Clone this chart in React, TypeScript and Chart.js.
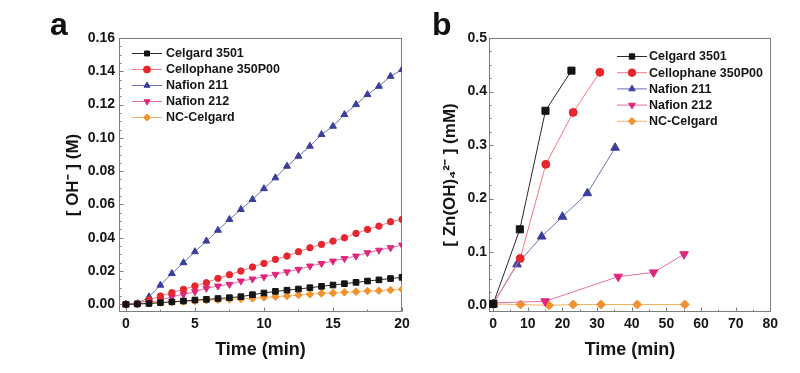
import React, { useEffect, useRef } from "react";
import { Chart, registerables } from "chart.js";
import { drawPoint } from "chart.js/helpers";

Chart.register(...registerables);

const FONT = "'Liberation Sans', Arial, Helvetica, sans-serif";

// ---------- Panel a data ----------
const timeA = [0, 0.83, 1.67, 2.5, 3.33, 4.17, 5, 5.83, 6.67, 7.5, 8.33, 9.17, 10, 10.83, 11.67, 12.5, 13.33, 14.17, 15, 15.83, 16.67, 17.5, 18.33, 19.17, 20];
const celgardA = [0, 0.0002, 0.0005, 0.001, 0.0015, 0.002, 0.0026, 0.003, 0.0035, 0.004, 0.0046, 0.0058, 0.0068, 0.0078, 0.0085, 0.0092, 0.01, 0.0108, 0.0116, 0.0124, 0.0132, 0.014, 0.0147, 0.0155, 0.0162];
const cellophaneA = [0, 0.0005, 0.0026, 0.005, 0.007, 0.009, 0.011, 0.013, 0.0156, 0.0178, 0.02, 0.0224, 0.0246, 0.027, 0.029, 0.0316, 0.034, 0.036, 0.038, 0.04, 0.0426, 0.045, 0.047, 0.0496, 0.051];
const nafion211A = [0, 0.0003, 0.0045, 0.0115, 0.0185, 0.025, 0.0316, 0.038, 0.0445, 0.051, 0.057, 0.063, 0.0695, 0.076, 0.083, 0.089, 0.095, 0.102, 0.107, 0.114, 0.12, 0.126, 0.131, 0.137, 0.141];
const nafion212A = [0, 0.0002, 0.001, 0.0026, 0.0046, 0.006, 0.0076, 0.0096, 0.011, 0.012, 0.014, 0.0152, 0.0165, 0.018, 0.0195, 0.021, 0.023, 0.0245, 0.026, 0.0275, 0.029, 0.031, 0.0325, 0.034, 0.0356];
const ncCelgardA = [0, 0.0003, 0.0006, 0.001, 0.0013, 0.0017, 0.002, 0.0024, 0.0027, 0.003, 0.0033, 0.0036, 0.0042, 0.0046, 0.005, 0.0056, 0.006, 0.0066, 0.0068, 0.0072, 0.0076, 0.008, 0.0082, 0.0086, 0.009];

const xTicksA = [0, 5, 10, 15, 20];
const xMinorA = [2.5, 7.5, 12.5, 17.5];
const yTicksA = [0, 0.02, 0.04, 0.06, 0.08, 0.1, 0.12, 0.14, 0.16];
const yMinorA = [0.005, 0.01, 0.015, 0.025, 0.03, 0.035, 0.045, 0.05, 0.055, 0.065, 0.07, 0.075, 0.085, 0.09, 0.095, 0.105, 0.11, 0.115, 0.125, 0.13, 0.135, 0.145, 0.15, 0.155];

// ---------- Panel b data ----------
const celgardBT = [0, 7.7, 15.1, 22.6];
const celgardBY = [0.003, 0.1425, 0.364, 0.439];
const cellophaneBT = [0, 7.8, 15.2, 23.1, 30.8];
const cellophaneBY = [0.003, 0.088, 0.264, 0.361, 0.436];
const nafion211BT = [0, 6.9, 14.0, 20.0, 27.2, 35.2];
const nafion211BY = [0.003, 0.077, 0.129, 0.166, 0.21, 0.295];
const nafion212BT = [0, 15, 36.1, 46.3, 55.1];
const nafion212BY = [0.005, 0.008, 0.054, 0.062, 0.096];
const ncCelgardBT = [0, 7.9, 16.1, 23.1, 31.1, 41.6, 55.3];
const ncCelgardBY = [0.003, 0.002, 0.0005, 0.002, 0.002, 0.002, 0.002];

const xTicksB = [0, 10, 20, 30, 40, 50, 60, 70, 80];
const xMinorB = [5, 15, 25, 35, 45, 55, 65, 75];
const yTicksB = [0, 0.1, 0.2, 0.3, 0.4, 0.5];
const yMinorB = [0.025, 0.05, 0.075, 0.125, 0.15, 0.175, 0.225, 0.25, 0.275, 0.325, 0.35, 0.375, 0.425, 0.45, 0.475];

const seriesNames = ["Celgard 3501", "Cellophane 350P00", "Nafion 211", "Nafion 212", "NC-Celgard"];
const markerColors = ["#141414", "#e5262e", "#3b3f9a", "#e0267c", "#f0922e"];
const lineColors = ["#2a2a2a", "#f27a80", "#6a72b4", "#e46ea4", "#f5b264"];
const markerStyles = ["rect", "circle", "triangle", "triangle", "rectRot"];
const markerRotations = [0, 0, 0, 180, 0];
const radiiA = [4, 3.2, 4, 4, 3.8];
const radiiB = [5, 4, 5, 5, 4.5];

const zip = (xs: number[], ys: number[]) => xs.map((x, i) => ({ x, y: ys[i] }));

const makeDatasets = (data: { x: number; y: number }[][], radii: number[]) =>
  data.map((d, i) => ({
    label: seriesNames[i],
    data: d,
    borderColor: lineColors[i],
    borderWidth: 1,
    pointStyle: markerStyles[i],
    pointRotation: markerRotations[i],
    pointRadius: radii[i],
    pointBackgroundColor: markerColors[i],
    pointBorderColor: markerColors[i],
    pointBorderWidth: 1,
    tension: 0,
    fill: false,
  }));

const frameTicksPlugin = {
  id: "frameTicks",
  beforeDatasetsDraw(chart: any, _args: any, opts: any) {
    const { ctx, chartArea: ca, scales } = chart;
    const xs = scales.x;
    const ys = scales.y;
    ctx.save();
    ctx.strokeStyle = "#7d7d7d";
    ctx.lineWidth = 1;
    const l = Math.round(ca.left) + 0.5;
    const t = Math.round(ca.top) + 0.5;
    const r = Math.round(ca.right) - 0.5;
    const b = Math.round(ca.bottom) - 0.5;
    ctx.strokeRect(l, t, r - l, b - t);
    ctx.beginPath();
    const tx = (vals: number[], len: number) =>
      vals.forEach((v) => {
        const px = Math.round(xs.getPixelForValue(v)) + 0.5;
        ctx.moveTo(px, b);
        ctx.lineTo(px, b - len);
      });
    const ty = (vals: number[], len: number) =>
      vals.forEach((v) => {
        const py = Math.round(ys.getPixelForValue(v)) + 0.5;
        ctx.moveTo(l, py);
        ctx.lineTo(l + len, py);
      });
    tx(opts.xMajor, 4);
    tx(opts.xMinor, 2);
    ty(opts.yMajor, 4);
    ty(opts.yMinor, 2);
    ctx.stroke();
    ctx.restore();
  },
  afterDraw(chart: any, _args: any, opts: any) {
    const { ctx } = chart;
    ctx.save();
    ctx.fillStyle = "#111";
    ctx.font = `bold 32px ${FONT}`;
    ctx.textAlign = "left";
    ctx.textBaseline = "alphabetic";
    ctx.fillText(opts.letter, opts.letterX, opts.letterY);
    ctx.restore();
  },
};

const insideLegendPlugin = {
  id: "insideLegend",
  afterDatasetsDraw(chart: any, _args: any, opts: any) {
    const { ctx } = chart;
    chart.data.datasets.forEach((ds: any, i: number) => {
      const yy = opts.y + i * opts.rowH;
      ctx.save();
      ctx.strokeStyle = ds.borderColor;
      ctx.lineWidth = 1;
      ctx.beginPath();
      ctx.moveTo(opts.x, yy + 0.5);
      ctx.lineTo(opts.x + opts.lineLen, yy + 0.5);
      ctx.stroke();
      ctx.fillStyle = ds.pointBackgroundColor;
      ctx.strokeStyle = ds.pointBorderColor;
      drawPoint(
        ctx,
        { pointStyle: ds.pointStyle, rotation: ds.pointRotation || 0, radius: opts.markerR, borderWidth: 1 } as any,
        opts.x + opts.lineLen / 2,
        yy + 0.5
      );
      ctx.fillStyle = "#151515";
      ctx.font = `bold 12.5px ${FONT}`;
      ctx.textAlign = "left";
      ctx.textBaseline = "middle";
      ctx.fillText(ds.label, opts.x + opts.lineLen + opts.gap, yy + 1);
      ctx.restore();
    });
  },
};

type PanelCfg = {
  width: number;
  height: number;
  datasets: any[];
  xMin: number;
  xMax: number;
  yMin: number;
  yMax: number;
  xTicks: number[];
  xMinor: number[];
  yTicks: number[];
  yMinor: number[];
  yDecimals: number;
  yAxisWidth: number;
  rightPad: number;
  yTitle: string;
  yTitlePad: number;
  yLabelPad: number;
  letter: string;
  letterX: number;
  legend: any;
};

function Panel({ cfg, left }: { cfg: PanelCfg; left: number }) {
  const ref = useRef<HTMLCanvasElement | null>(null);
  useEffect(() => {
    if (!ref.current) return;
    const chart = new Chart(ref.current, {
      type: "line",
      data: { datasets: cfg.datasets },
      plugins: [frameTicksPlugin, insideLegendPlugin],
      options: {
        animation: false,
        responsive: false,
        maintainAspectRatio: false,
        devicePixelRatio: 1,
        layout: { padding: { left: 0, top: 38, right: cfg.rightPad, bottom: 0 } },
        plugins: {
          legend: { display: false },
          tooltip: { enabled: false },
          frameTicks: {
            xMajor: cfg.xTicks,
            xMinor: cfg.xMinor,
            yMajor: cfg.yTicks,
            yMinor: cfg.yMinor,
            letter: cfg.letter,
            letterX: cfg.letterX,
            letterY: 35,
          },
          insideLegend: cfg.legend,
        } as any,
        scales: {
          x: {
            type: "linear",
            min: cfg.xMin,
            max: cfg.xMax,
            grid: { display: false, drawTicks: false },
            border: { display: false },
            afterBuildTicks: (s: any) => {
              s.ticks = cfg.xTicks.map((v) => ({ value: v }));
            },
            afterFit: (s: any) => {
              s.height = cfg.height - 312;
            },
            ticks: {
              padding: 4,
              color: "#151515",
              font: { family: FONT, size: 14, weight: "bold" },
              maxRotation: 0,
              autoSkip: false,
              callback: (v: any) => String(v),
            },
            title: {
              display: true,
              text: "Time (min)",
              color: "#151515",
              font: { family: FONT, size: 18, weight: "bold" },
              padding: { top: 0, bottom: 12 },
            },
          },
          y: {
            type: "linear",
            min: cfg.yMin,
            max: cfg.yMax,
            grid: { display: false, drawTicks: false },
            border: { display: false },
            afterBuildTicks: (s: any) => {
              s.ticks = cfg.yTicks.map((v) => ({ value: v }));
            },
            afterFit: (s: any) => {
              s.width = cfg.yAxisWidth;
            },
            ticks: {
              padding: cfg.yLabelPad,
              color: "#151515",
              font: { family: FONT, size: 14, weight: "bold" },
              autoSkip: false,
              callback: (v: any) => Number(v).toFixed(cfg.yDecimals),
            },
            title: {
              display: true,
              text: cfg.yTitle,
              color: "#151515",
              font: { family: FONT, size: 17, weight: "bold" },
              padding: { top: cfg.yTitlePad, bottom: 0 },
            },
          },
        },
      } as any,
    });
    return () => chart.destroy();
  }, [cfg]);
  return (
    <canvas
      ref={ref}
      width={cfg.width}
      height={cfg.height}
      style={{ position: "absolute", left, top: 0, width: cfg.width, height: cfg.height }}
    />
  );
}

const panelA: PanelCfg = {
  width: 415,
  height: 373,
  datasets: makeDatasets(
    [
      zip(timeA, celgardA),
      zip(timeA, cellophaneA),
      zip(timeA, nafion211A),
      zip(timeA, nafion212A),
      zip(timeA, ncCelgardA),
    ],
    radiiA
  ),
  xMin: -0.5,
  xMax: 20,
  yMin: -0.0046,
  yMax: 0.16,
  xTicks: xTicksA,
  xMinor: xMinorA,
  yTicks: yTicksA,
  yMinor: yMinorA,
  yDecimals: 2,
  yAxisWidth: 119,
  rightPad: 13,
  yTitle: "[ OH\u207B ] (M)",
  yTitlePad: 63,
  yLabelPad: 4,
  letter: "a",
  letterX: 50,
  legend: { x: 132, y: 53, rowH: 16, lineLen: 30, gap: 4, markerR: 3.5 },
};

const panelB: PanelCfg = {
  width: 385,
  height: 373,
  datasets: makeDatasets(
    [
      zip(celgardBT, celgardBY),
      zip(cellophaneBT, cellophaneBY),
      zip(nafion211BT, nafion211BY),
      zip(nafion212BT, nafion212BY),
      zip(ncCelgardBT, ncCelgardBY),
    ],
    radiiB
  ),
  xMin: -1.2,
  xMax: 80.2,
  yMin: -0.012,
  yMax: 0.5,
  xTicks: xTicksB,
  xMinor: xMinorB,
  yTicks: yTicksB,
  yMinor: yMinorB,
  yDecimals: 1,
  yAxisWidth: 74,
  rightPad: 29,
  yTitle: "[ Zn(OH)\u2084\u00B2\u207B ] (mM)",
  yTitlePad: 25,
  yLabelPad: 2,
  letter: "b",
  letterX: 17,
  legend: { x: 202, y: 56, rowH: 16.2, lineLen: 30, gap: 2, markerR: 3.8 },
};

export default function App() {
  return (
    <div
      style={{
        position: "fixed",
        left: 0,
        top: 0,
        width: 800,
        height: 373,
        background: "#ffffff",
        overflow: "hidden",
      }}
    >
      <Panel cfg={panelA} left={0} />
      <Panel cfg={panelB} left={415} />
    </div>
  );
}
